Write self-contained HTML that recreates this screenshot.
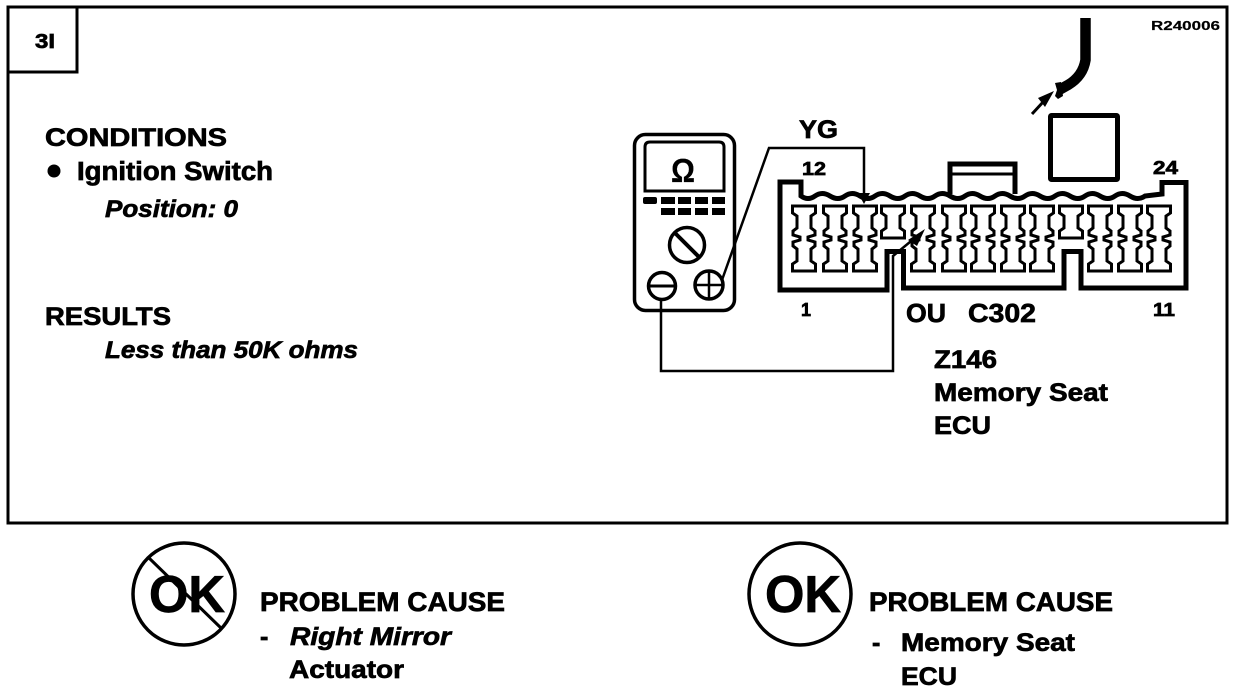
<!DOCTYPE html>
<html>
<head>
<meta charset="utf-8">
<style>
html,body{margin:0;padding:0;background:#fff;width:1248px;height:692px;overflow:hidden}
svg{display:block}
text{font-family:"Liberation Sans",sans-serif;font-weight:bold;fill:#000;stroke:#000;stroke-width:.7}
.i{font-style:italic}
</style>
</head>
<body>
<svg width="1248" height="692" viewBox="0 0 1248 692" xmlns="http://www.w3.org/2000/svg">
<defs>
<path id="full" d="M-11.500 -32H11.500V-25L7 -22V-10L11 -7V-3L4 -1V2L11 4V8L7 11V23L11.500 26V33H-11.500V26L-7 23V11L-11 8V4L-4 2V-1L-11 -3V-7L-7 -10V-22L-11.500 -25Z" fill="#fff" stroke="#000" stroke-width="3"/>
<path id="single" d="M-11.500 -32H11.500V-25L7 -22V-10L11.500 -7V0H-11.500V-7L-7 -10V-22L-11.500 -25Z" fill="#fff" stroke="#000" stroke-width="3"/>
</defs>
<rect x="8" y="7" width="1219" height="516" fill="none" stroke="#000" stroke-width="3"/>
<path d="M9 72H77V7" fill="none" stroke="#000" stroke-width="3"/>
<text x="35" y="48" font-size="20" textLength="20" lengthAdjust="spacingAndGlyphs">3I</text>
<text x="1151" y="30" font-size="13" textLength="69" lengthAdjust="spacingAndGlyphs" style="stroke-width:.2">R240006</text>

<text x="45" y="146" font-size="25" textLength="182" lengthAdjust="spacingAndGlyphs">CONDITIONS</text>
<circle cx="54" cy="171" r="6.500"/>
<text x="77" y="180" font-size="25.500" textLength="196" lengthAdjust="spacingAndGlyphs">Ignition Switch</text>
<text x="105" y="217" font-size="24.500" class="i" textLength="133" lengthAdjust="spacingAndGlyphs">Position: 0</text>
<text x="45" y="325" font-size="25" textLength="126" lengthAdjust="spacingAndGlyphs">RESULTS</text>
<text x="105" y="358" font-size="24.500" class="i" textLength="253" lengthAdjust="spacingAndGlyphs">Less than 50K ohms</text>

<!-- meter -->
<rect x="634.500" y="134.500" width="100" height="176" rx="11" fill="#fff" stroke="#000" stroke-width="3.500"/>
<path d="M645 191V147Q645 142 650 142H719Q724 142 724 147V191Z" fill="none" stroke="#000" stroke-width="3"/>
<text x="671" y="182" font-size="33" textLength="24" lengthAdjust="spacingAndGlyphs" style="stroke-width:.2">Ω</text>
<g fill="#000">
<rect x="643" y="197" width="14" height="7" rx="2"/><rect x="661" y="197" width="14" height="7"/><rect x="678" y="197" width="13" height="7"/><rect x="695" y="197" width="13" height="7"/><rect x="712" y="197" width="13" height="7"/>
<rect x="661" y="208" width="14" height="7"/><rect x="678" y="208" width="13" height="7"/><rect x="695" y="208" width="13" height="7"/><rect x="712" y="208" width="13" height="7"/>
</g>
<circle cx="687" cy="245" r="17.500" fill="#fff" stroke="#000" stroke-width="3.500"/>
<line x1="675" y1="233" x2="699" y2="257" stroke="#000" stroke-width="4"/>
<circle cx="662" cy="286" r="13.500" fill="#fff" stroke="#000" stroke-width="3.500"/>
<line x1="650" y1="286" x2="674" y2="286" stroke="#000" stroke-width="3"/>
<circle cx="709" cy="285" r="14" fill="#fff" stroke="#000" stroke-width="3.500"/>
<line x1="696" y1="285" x2="722" y2="285" stroke="#000" stroke-width="2.500"/>
<line x1="709" y1="272" x2="709" y2="298" stroke="#000" stroke-width="2.500"/>

<!-- connector housing -->
<path d="M780 290V182H801V196Q808 201 815 196T830 196T845 196T860 196T875 196T890 196T905 196T920 196T935 196T950 196T965 196T980 196T995 196T1010 196T1025 196T1040 196T1055 196T1070 196T1085 196T1100 196T1115 196T1130 196T1145 196L1162 194V182.500H1186V288H1081V251.500H1064V288H903.500V251.500H887V290Z" fill="none" stroke="#000" stroke-width="5"/>
<path d="M950 194V164Q950 164 952 164H1013Q1015 164 1015 164V194" fill="none" stroke="#000" stroke-width="5"/>
<line x1="952" y1="174" x2="1014" y2="174" stroke="#000" stroke-width="3"/>
<rect x="1050.500" y="115.500" width="67" height="64" rx="1" fill="none" stroke="#000" stroke-width="5"/>

<!-- terminals -->
<g>
<use href="#full" x="804" y="238"/>
<use href="#full" x="835" y="238"/>
<use href="#full" x="865" y="238"/>
<use href="#single" x="893" y="238"/>
<use href="#full" x="923" y="238"/>
<use href="#full" x="954" y="238"/>
<use href="#full" x="983" y="238"/>
<use href="#full" x="1013" y="238"/>
<use href="#full" x="1042" y="238"/>
<use href="#single" x="1071" y="238"/>
<use href="#full" x="1100" y="238"/>
<use href="#full" x="1130" y="238"/>
<use href="#full" x="1159" y="238"/>
</g>

<!-- leads -->
<path d="M722 280L769 148H864V197" fill="none" stroke="#000" stroke-width="2.500"/>
<path d="M858 193L870 193L864 204Z"/>
<path d="M661 299V371H893V256L916 237" fill="none" stroke="#000" stroke-width="2.500"/>
<path d="M908 240L925 229L917 246Z"/>

<!-- wire harness -->
<path d="M1085.500 18V60Q1083 76 1068 85L1059 90" fill="none" stroke="#000" stroke-width="10.500"/>
<path d="M1055 83L1061 82L1063 96L1058 99L1055 96L1057 90Z"/>
<path d="M1032 114L1044 101" stroke="#000" stroke-width="3"/>
<path d="M1038 98L1054 91L1045 107Z"/>

<!-- connector labels -->
<text x="799" y="138" font-size="25" textLength="39" lengthAdjust="spacingAndGlyphs">YG</text>
<text x="802" y="175" font-size="18" textLength="24" lengthAdjust="spacingAndGlyphs">12</text>
<text x="1153" y="174" font-size="18" textLength="25" lengthAdjust="spacingAndGlyphs">24</text>
<text x="801" y="316" font-size="18">1</text>
<text x="1153" y="316" font-size="18" textLength="22" lengthAdjust="spacingAndGlyphs">11</text>
<text x="906" y="322" font-size="26" textLength="40" lengthAdjust="spacingAndGlyphs">OU</text>
<text x="968" y="322" font-size="26" textLength="68" lengthAdjust="spacingAndGlyphs">C302</text>
<text x="934" y="368" font-size="25" textLength="63" lengthAdjust="spacingAndGlyphs">Z146</text>
<text x="934" y="401" font-size="25" textLength="174" lengthAdjust="spacingAndGlyphs">Memory Seat</text>
<text x="934" y="434" font-size="25" textLength="57" lengthAdjust="spacingAndGlyphs">ECU</text>

<!-- bottom left -->
<circle cx="184" cy="594" r="51" fill="none" stroke="#000" stroke-width="3.500"/>
<line x1="149" y1="558" x2="222" y2="629" stroke="#000" stroke-width="3"/>
<text x="149" y="612" font-size="52" textLength="76" lengthAdjust="spacingAndGlyphs">OK</text>
<text x="260" y="611" font-size="27" textLength="245" lengthAdjust="spacingAndGlyphs">PROBLEM CAUSE</text>
<text x="260" y="645" font-size="25">-</text>
<text x="290" y="645" font-size="25" class="i" textLength="161" lengthAdjust="spacingAndGlyphs">Right Mirror</text>
<text x="289" y="678" font-size="25" textLength="115" lengthAdjust="spacingAndGlyphs">Actuator</text>

<!-- bottom right -->
<circle cx="800" cy="594" r="51" fill="none" stroke="#000" stroke-width="3.500"/>
<text x="765" y="612" font-size="52" textLength="76" lengthAdjust="spacingAndGlyphs">OK</text>
<text x="869" y="611" font-size="27" textLength="244" lengthAdjust="spacingAndGlyphs">PROBLEM CAUSE</text>
<text x="872" y="651" font-size="25">-</text>
<text x="901" y="651" font-size="25" textLength="174" lengthAdjust="spacingAndGlyphs">Memory Seat</text>
<text x="901" y="685" font-size="25" textLength="56" lengthAdjust="spacingAndGlyphs">ECU</text>
</svg>
</body>
</html>
